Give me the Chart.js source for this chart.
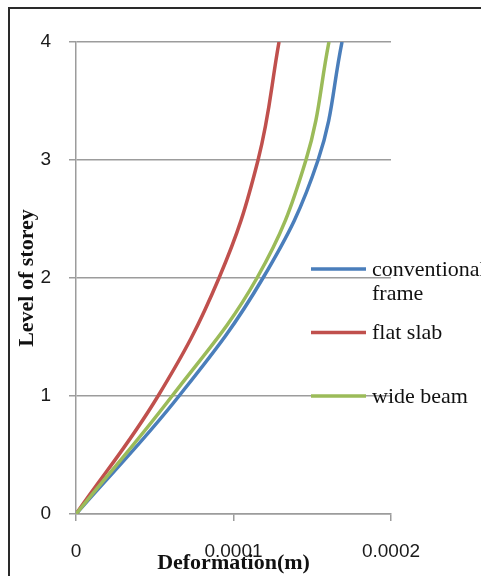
<!DOCTYPE html>
<html>
<head>
<meta charset="utf-8">
<script src="https://cdn.jsdelivr.net/npm/chart.js@4/dist/chart.umd.min.js"></script>
<style>
  html, body { margin: 0; padding: 0; background: #fff; }
  #wrap { position: relative; width: 481px; height: 576px; overflow: hidden; }
  #frame { position: absolute; left: 8px; top: 7px; width: 600px; height: 700px;
           border-left: 2px solid #2a2a2a; border-top: 2px solid #2a2a2a; pointer-events: none; }
  canvas { position: absolute; left: 0; top: 0; }
</style>
</head>
<body>
<div id="wrap">
  <canvas id="c" width="481" height="576"></canvas>
  <div id="frame"></div>
</div>
<script>
// ---- data ----
const levels = [0, 1, 2, 3, 4];
const seriesNames = ['conventional frame', 'flat slab', 'wide beam'];
const conventionalFrame = [0, 0.0000654, 0.0001187, 0.0001537, 0.0001689];
const flatSlab          = [0, 0.0000521, 0.0000908, 0.0001156, 0.0001289];
const wideBeam          = [0, 0.0000610, 0.0001149, 0.0001460, 0.0001606];
const xTickLabels = ['0', '0.0001', '0.0002'];
const yTickLabels = ['0', '1', '2', '3', '4'];
const seriesColors = ['#4A7EBB', '#C0504D', '#9BBB59'];

const allSeries = [conventionalFrame, flatSlab, wideBeam];
const drawOrder = [2, 1, 0];

const datasets = allSeries.map((vals, i) => ({
  label: seriesNames[i],
  data: vals.map((v, k) => ({ x: v, y: levels[k] })),
  borderColor: seriesColors[i],
  backgroundColor: seriesColors[i],
  borderWidth: 3.5,
  pointRadius: 0,
  showLine: true,
  tension: 0.4,
  order: drawOrder[i]
}));

const gridColor = '#9c9c9c';

const sideLegend = {
  id: 'sideLegend',
  afterDatasetsDraw(chart, args, opts) {
    const ctx = chart.ctx;
    ctx.save();
    ctx.font = opts.font;
    ctx.fillStyle = opts.color;
    ctx.textBaseline = 'middle';
    ctx.textAlign = 'left';
    chart.data.datasets.forEach((ds, i) => {
      const y = opts.y + i * opts.spacing;
      ctx.strokeStyle = ds.borderColor;
      ctx.lineWidth = opts.lineWidth;
      ctx.beginPath();
      ctx.moveTo(opts.x, y);
      ctx.lineTo(opts.x + opts.lineLen, y);
      ctx.stroke();
      const words = ds.label.split(' ');
      const lines = [];
      let cur = '';
      words.forEach(w => {
        const test = cur ? cur + ' ' + w : w;
        if (cur && ctx.measureText(test).width > opts.maxWidth) { lines.push(cur); cur = w; }
        else cur = test;
      });
      if (cur) lines.push(cur);
      lines.forEach((ln, k) => {
        ctx.fillText(ln, opts.x + opts.lineLen + opts.gap, y + 1 + k * opts.lineHeight);
      });
    });
    ctx.restore();
  }
};

new Chart(document.getElementById('c'), {
  type: 'scatter',
  data: { datasets },
  plugins: [sideLegend],
  options: {
    responsive: false,
    devicePixelRatio: 1,
    animation: false,
    layout: { padding: { left: 0, right: 90, top: 42, bottom: 0 } },
    plugins: {
      legend: { display: false },
      tooltip: { enabled: false },
      sideLegend: {
        x: 311, y: 269, spacing: 63.5, lineLen: 55, gap: 6, lineWidth: 3.5,
        maxWidth: 120, lineHeight: 24,
        font: '22px "Liberation Serif", "Times New Roman", serif', color: '#111'
      }
    },
    scales: {
      x: {
        type: 'linear',
        min: 0, max: 0.0002,
        afterFit(s) { s.height = 62; },
        afterBuildTicks(s) { s.ticks = xTickLabels.map((t, i) => ({ value: i * 0.0001 })); },
        ticks: {
          padding: 19,
          color: '#1a1a1a',
          font: { family: '"Liberation Sans", Arial, sans-serif', size: 19 },
          maxRotation: 0,
          callback: (v, i) => xTickLabels[i]
        },
        grid: { drawOnChartArea: false, drawTicks: true, tickLength: 7, color: gridColor, lineWidth: 1.5 },
        border: { display: true, color: gridColor, width: 1.5 },
        title: {
          display: true,
          text: 'Deformation(m)',
          color: '#111',
          font: { family: '"Liberation Serif", "Times New Roman", serif', size: 22, weight: 'bold' },
          padding: { top: 0, bottom: -1 }
        }
      },
      y: {
        type: 'linear',
        min: 0, max: 4,
        afterFit(s) { s.width = 76; },
        afterBuildTicks(s) { s.ticks = yTickLabels.map((t, i) => ({ value: i })); },
        ticks: {
          padding: 18,
          color: '#1a1a1a',
          font: { family: '"Liberation Sans", Arial, sans-serif', size: 19 },
          callback: (v, i) => yTickLabels[i]
        },
        grid: { drawOnChartArea: true, drawTicks: true, tickLength: 7, color: gridColor, lineWidth: 1.5 },
        border: { display: true, color: gridColor, width: 1.5 },
        title: {
          display: true,
          text: 'Level of storey',
          color: '#111',
          font: { family: '"Liberation Serif", "Times New Roman", serif', size: 22, weight: 'bold' },
          padding: { top: 14, bottom: 0 }
        }
      }
    }
  }
});
</script>
</body>
</html>
